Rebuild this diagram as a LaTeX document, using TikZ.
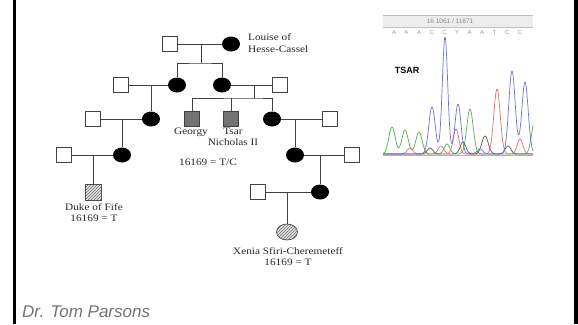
\documentclass[tikz,border=0pt]{standalone}
\usepackage{fontspec}
\setmainfont{Liberation Serif}
\setsansfont{Liberation Sans}
\newfontfamily\pedfont[FakeStretch=1.15]{Liberation Serif}
\usetikzlibrary{shapes.geometric,patterns}
\definecolor{trblue}{HTML}{6E6ED8}
\definecolor{trgreen}{HTML}{4FAF4F}
\definecolor{trred}{HTML}{E07070}
\definecolor{trblack}{HTML}{555555}
\begin{document}
\begin{tikzpicture}[x=1pt,y=-1pt,
  kin/.style={line width=0.8pt, draw=black!75},
  male/.style={draw=black!75, line width=0.8pt, fill=white, minimum size=15pt, inner sep=0pt},
  female/.style={ellipse, fill=black, minimum width=18pt, minimum height=15pt, inner sep=0pt},
  tested/.style={draw=black!75, line width=0.8pt, fill=black!55, minimum size=15pt, inner sep=0pt},
  hatched/.style={draw=black!70, line width=0.7pt, pattern=north east lines, pattern color=black!55,
                  preaction={fill=black!12}, inner sep=0pt},
  lbl/.style={font=\pedfont\fontsize{9.8}{11.5}\selectfont, text=black!85, inner sep=0pt, align=center},
  trace/.style={line width=0.7pt, line join=round}
]
\useasboundingbox (0,0) rectangle (578,324);

% side rules of the slide
\fill[black] (13,0) rectangle (16,324);
\fill[black] (574,0) rectangle (578,324);

% ---- pedigree ----
% generation 1
\node[male]   (s1) at (170,44) {};
\node[female] (l1) at (231,44) {};
\node[lbl, anchor=west, align=left] (louise) at (248,43) {Louise of\\Hesse-Cassel};
% generation 2
\node[male]   (s21) at (121,85) {};
\node[female] (c21) at (177,85) {};
\node[female] (c22) at (222,85) {};
\node[male]   (s22) at (280,85) {};
% generation 3
\node[male]   (s31) at (93,119) {};
\node[female] (c31) at (151,119) {};
\node[tested] (g)   at (192,119) {};
\node[tested] (t)   at (231,119) {};
\node[female] (c32) at (272,119) {};
\node[male]   (s32) at (330,119) {};
\node[lbl] (glbl) at (191,132) {Georgy};
\node[lbl] (tlbl) at (233,137) {Tsar\\Nicholas II};
\node[lbl] (tcl)  at (208,162) {16169 = T/C};
% generation 4
\node[male]   (s41) at (64,155) {};
\node[female] (c41) at (122,155) {};
\node[female] (c42) at (295,155) {};
\node[male]   (s42) at (352,155) {};
% generation 5
\node[hatched, minimum size=16pt] (duke) at (93,192) {};
\node[lbl] (dlbl) at (94,212.5) {Duke of Fife\\16169 = T};
\node[male]   (s51) at (258,192) {};
\node[female] (c51) at (320,192) {};
% generation 6
\node[hatched, ellipse, minimum width=21pt, minimum height=16pt] (xen) at (287,232) {};
\node[lbl] (xlbl) at (288,256.5) {Xenia Sfiri-Cheremeteff\\16169 = T};

% marriage points and sibship junctions
\coordinate (m1) at (201,44);  \coordinate (j1) at (201,63);
\coordinate (m2) at (151,85);
\coordinate (m3) at (254,85);  \coordinate (j3) at (254,98);
\coordinate (m4) at (122,119);
\coordinate (m5) at (295,119);
\coordinate (m6) at (93,155);
\coordinate (m7) at (320,155);
\coordinate (m8) at (287,192);

\begin{scope}[kin]
  \draw (s1) -- (l1);
  \draw (m1) -- (j1);
  \draw (c21) |- (j1) -| (c22);
  \draw (s21) -- (c21);
  \draw (m2) -- (c31);
  \draw (c22) -- (s22);
  \draw (m3) -- (j3);
  \draw (g) |- (j3) -| (c32);
  \draw (t) -- (t |- j3);
  \draw (s31) -- (c31);
  \draw (m4) -- (c41);
  \draw (c32) -- (s32);
  \draw (m5) -- (c42);
  \draw (s41) -- (c41);
  \draw (m6) -- (duke);
  \draw (c42) -- (s42);
  \draw (m7) -- (c51);
  \draw (s51) -- (c51);
  \draw (m8) -- (xen);
\end{scope}

% ---- sequencing trace ----
\fill[black!7] (383,15) rectangle (533,27);
\draw[black!25, line width=0.6pt] (383,15) -- (533,15) (383,27) -- (533,27);
\node[font=\sffamily\fontsize{6.5}{7}\selectfont, text=black!45, inner sep=0] (hdr) at (450,21) {16 1061 / 11871};
\node[font=\sffamily\fontsize{6}{7}\selectfont, text=black!40, inner sep=0] (bases) at (457,32)
  {A\hspace{8.5pt}A\hspace{8.5pt}A\hspace{8.5pt}C\hspace{8.5pt}C\hspace{8.5pt}Y\hspace{8.5pt}A\hspace{8.5pt}A\hspace{8.5pt}T\hspace{8.5pt}C\hspace{8.5pt}C};
\draw[black!30, line width=0.6pt] (383,155) -- (533,155);

\draw[trace, trgreen] plot[domain=383:533, samples=220, smooth]
  (\x,{154-27*exp(-((\x-392)/4.5)^2)-24*exp(-((\x-405)/4.5)^2)-22*exp(-((\x-419)/4.5)^2)
        -45*exp(-((\x-470)/4.5)^2)-10*exp(-((\x-447)/4)^2)-35*exp(-((\x-535)/4.5)^2)});
\draw[trace, trred] plot[domain=383:533, samples=220, smooth]
  (\x,{154-25*exp(-((\x-456)/4)^2)-65*exp(-((\x-497)/4.5)^2)-8*exp(-((\x-441)/4)^2)
        -15*exp(-((\x-520)/4)^2)-6*exp(-((\x-410)/4)^2)});
\draw[trace, trblack] plot[domain=383:533, samples=220, smooth]
  (\x,{154-18*exp(-((\x-485)/4.5)^2)-12*exp(-((\x-463)/4)^2)-6*exp(-((\x-430)/4)^2)
        -8*exp(-((\x-508)/4)^2)});
\draw[trace, trblue] plot[domain=383:533, samples=260, smooth]
  (\x,{154-47*exp(-((\x-432)/4.5)^2)-117*exp(-((\x-445)/3.8)^2)-50*exp(-((\x-458)/4.2)^2)
        -83*exp(-((\x-512)/4.5)^2)-72*exp(-((\x-525)/4.5)^2)-5*exp(-((\x-480)/4)^2)});

\node[font=\sffamily\bfseries\fontsize{9}{10}\selectfont, inner sep=0] (tsar) at (407,70) {TSAR};

% ---- credit line ----
\node[anchor=base west, font=\sffamily\itshape\fontsize{17}{20}\selectfont, text=black!55, inner sep=0]
  (credit) at (22,317) {Dr. Tom Parsons};
\end{tikzpicture}
\end{document}
